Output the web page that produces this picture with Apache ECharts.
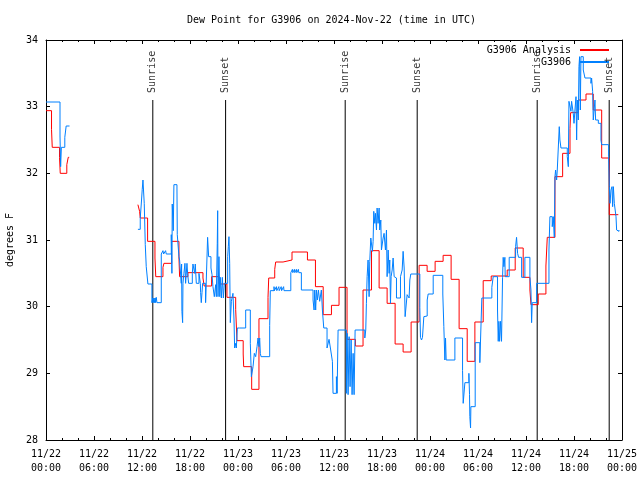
<!DOCTYPE html>
<html><head><meta charset="utf-8">
<script src="https://cdn.jsdelivr.net/npm/echarts@6/dist/echarts.min.js"></script>
<style>html,body{margin:0;padding:0;background:#fff}#c{width:640px;height:480px}</style>
</head><body><div id="c"></div>
<script>
// x values are hours since 2024-11-22 00:00 UTC
const tickDates = ['11/22','11/22','11/22','11/22','11/23','11/23','11/23','11/23','11/24','11/24','11/24','11/24','11/25'];
const tickTimes = ['00:00','06:00','12:00','18:00','00:00','06:00','12:00','18:00','00:00','06:00','12:00','18:00','00:00'];

const sunTimes = [13.35, 22.45, 37.4, 46.4, 61.4, 70.4];
const sunNames = ['Sunrise','Sunset','Sunrise','Sunset','Sunrise','Sunset'];

const analysis = [
 [0,32.94],[0.69,32.66],[0.78,32.39],[1.69,32.24],[1.78,32.0],[2.6,32.13],[2.78,32.24],[2.85,32.24],[2.9,null],
 [11.49,31.53],[11.7,31.43],[11.78,31.33],[12.7,30.98],[13.62,30.73],[13.72,30.45],[14.62,30.59],[14.74,30.65],
 [15.7,30.98],[16.62,30.73],[16.7,30.45],[17.74,30.51],[19.62,30.43],[19.77,30.31],[20.7,30.45],[21.65,30.34],
 [22.62,30.14],[23.71,29.96],[23.87,29.49],[24.65,29.29],[24.71,29.1],[25.71,28.76],[26.62,29.82],[27.75,30.14],
 [27.84,30.43],[28.59,30.56],[28.71,30.67],[29.63,30.7],[30.75,30.82],[32.68,30.7],[33.68,30.3],[34.65,29.88],
 [35.68,30.02],[36.63,30.29],[37.63,29.51],[38.68,29.41],[39.63,30.25],[40.69,30.84],[41.64,30.28],[42.64,30.05],
 [43.64,29.44],[44.64,29.32],[45.64,29.77],[46.64,30.62],[47.64,30.53],[48.64,30.68],[49.64,30.77],[50.64,30.41],
 [51.64,29.67],[52.65,29.18],[53.61,29.77],[54.65,30.39],[55.65,30.46],[57.65,30.55],[58.65,30.88],[59.65,30.44],
 [60.49,30.25],[60.62,30.03],[61.53,30.19],[62.49,30.61],[62.66,31.04],[63.62,31.95],[64.58,32.3],[65.5,32.67],
 [65.58,32.91],[66.53,33.1],[67.5,33.19],[68.41,32.95],[69.46,32.23],[70.41,31.38],[71.54,31.38]
];

const observed = [
 [0,33.07],[1.75,32.56],[1.83,32.1],[1.92,32.39],[2.35,32.54],[2.52,32.71],[2.94,32.71],[3.0,null],
 [11.49,31.16],[11.78,31.33],[11.91,31.54],[12.03,31.76],[12.12,31.9],[12.24,31.93],[12.28,31.55],[12.41,30.93],
 [12.53,30.6],[12.74,30.34],[13.24,30.06],[13.35,30.13],[13.4,30.06],[13.5,30.13],[13.55,30.06],[13.65,30.13],
 [13.7,30.06],[13.78,30.14],[13.87,30.06],[14.41,30.79],[14.62,30.84],[14.7,30.79],
 [14.95,30.84],[15.03,30.79],[15.66,31.08],[15.74,30.5],[15.78,31.54],[15.91,31.14],[15.99,31.83],[16.37,31.78],
 [16.41,31.08],[16.62,30.75],[16.7,30.7],[16.91,30.35],[16.95,30.64],[16.99,29.93],[17.08,29.76],[17.12,30.35],
 [17.24,30.5],[17.37,30.65],[17.45,30.35],[17.62,30.65],[17.7,30.5],[17.83,30.35],[18.29,30.5],[18.37,30.64],
 [18.58,30.5],[18.66,30.64],[18.79,30.35],[19.12,30.5],[19.29,30.35],[19.33,30.21],[19.41,30.06],[19.5,30.21],
 [19.58,30.35],[19.95,30.06],[20.2,31.04],[20.33,30.75],[20.62,30.58],[20.75,30.48],[20.87,30.3],[21.04,30.15],
 [21.21,30.33],[21.29,30.15],[21.41,30.95],[21.46,31.44],[21.5,30.15],[21.62,30.75],[21.72,30.15],
 [21.79,30.44],[21.92,30.13],[22.04,30.44],[22.17,30.13],[22.29,30.35],[22.71,30.75],[22.79,30.9],[22.87,31.05],
 [22.96,30.65],[23.04,29.76],[23.17,30.08],[23.37,30.2],[23.5,29.8],[23.58,29.38],[23.71,29.45],[23.79,29.38],
 [23.92,29.68],[24.2,29.7],[24.3,29.68],[24.96,29.95],[25.54,29.45],[25.67,28.95],[25.88,29.1],[26.04,29.3],
 [26.21,29.25],[26.38,29.4],[26.5,29.53],[26.63,29.4],[26.71,29.53],[26.79,29.3],[26.88,29.25],[27.96,29.72],
 [28.04,30.24],[28.5,30.3],[28.55,30.24],[28.8,30.3],[28.85,30.24],[29.1,30.3],[29.15,30.24],[29.4,30.3],
 [29.45,30.24],[29.7,30.3],[29.75,30.24],[30.6,30.51],[30.8,30.56],[30.85,30.51],[31.05,30.56],[31.1,30.51],
 [31.3,30.56],[31.35,30.51],[31.55,30.56],[31.6,30.51],
 [31.92,30.25],[33.38,30.1],[33.51,29.95],[33.59,30.25],[33.71,29.95],[33.8,30.25],
 [33.92,30.1],[34.05,30.25],[34.21,30.08],[34.42,30.25],[34.55,29.95],[34.72,29.68],
 [35.13,29.38],[35.38,29.51],[35.55,29.38],[35.8,29.18],[35.88,28.7],[36.3,28.95],[36.39,28.7],[36.51,29.65],
 [37.55,28.7],[37.64,29.6],[37.76,28.68],[37.89,29.55],[38.01,28.8],[38.14,29.5],[38.26,28.68],[38.39,29.3],
 [38.51,28.68],[38.64,29.65],[39.85,29.53],[39.97,29.65],[40.05,30.05],[40.14,30.45],[40.26,30.7],[40.39,30.15],
 [40.47,30.68],[40.6,31.03],[40.68,31.05],[40.8,30.83],[40.89,30.98],[40.97,31.43],[41.1,31.25],[41.18,31.4],
 [41.31,31.15],[41.39,31.48],[41.51,31.25],[41.64,31.48],[41.72,31.15],[41.85,31.3],[41.93,30.85],[42.06,30.83],
 [42.14,31.03],[42.26,31.1],[42.43,30.85],[42.56,31.15],[42.64,30.45],[42.77,30.85],[42.89,30.5],[42.97,30.7],
 [43.06,30.05],[43.14,30.45],[43.27,30.55],[43.39,30.73],[43.52,30.45],[43.64,30.43],[43.81,30.13],[44.31,30.45],
 [44.52,30.55],[44.64,30.83],[44.77,30.58],[44.89,29.85],[45.14,30.18],[45.39,30.13],[45.48,30.4],[45.6,30.49],
 [46.73,29.99],[46.81,29.54],[46.94,29.5],[47.06,29.54],[47.23,29.85],[47.35,29.83],[47.48,29.86],[47.65,30.1],
 [47.77,30.19],[48.4,30.47],[49.6,30.19],[49.73,29.7],[49.86,29.2],[49.94,29.53],[50.02,29.2],[51.11,29.53],
 [52.07,29.04],[52.15,28.55],[52.36,28.86],[52.86,29.0],[52.94,28.68],[52.98,28.35],[53.07,28.18],[53.11,28.5],
 [53.65,29.46],[54.23,29.16],[54.48,30.13],[55.73,30.29],[55.9,30.45],[56.44,29.95],[56.53,29.48],[56.61,29.78],
 [56.7,29.48],[56.82,29.78],[56.94,29.48],[57.07,30.44],[57.15,30.74],[57.24,30.6],[57.36,30.74],[57.4,30.45],
 [57.9,30.74],[58.7,30.9],[58.82,31.04],[58.95,30.8],[59.07,30.74],[59.45,30.44],[59.86,30.74],[60.49,30.44],
 [60.62,30.25],[60.7,29.76],[60.78,30.06],[61.33,30.35],[62.87,30.85],[62.99,31.35],[63.28,31.2],[63.41,31.35],
 [63.54,31.04],[63.62,31.95],[63.7,32.05],[63.83,31.9],[63.91,32.05],[64.16,32.7],[64.24,32.5],[64.37,32.38],
 [65.16,32.25],[65.29,32.1],[65.37,33.08],[65.62,32.93],[65.7,33.08],[65.91,32.9],[66.0,32.75],[66.12,32.95],
 [66.25,33.15],[66.33,32.5],[66.41,33.1],[66.54,32.8],[66.62,33.6],[66.7,33.75],[66.79,32.95],[66.87,33.75],
 [67.16,33.55],[67.37,33.43],[68.12,33.35],[68.2,33.43],[68.33,33.23],[68.41,32.8],[68.62,33.1],[68.7,32.8],
 [69.04,32.75],[69.37,32.5],[69.46,32.43],[70.33,32.25],[70.42,31.8],[70.5,31.55],[70.62,31.75],[70.75,31.8],
 [70.83,31.5],[70.92,31.8],[71.04,31.55],[71.25,31.35],[71.33,31.15],[71.46,31.13],[71.62,31.15]
];

const FONT = 'DejaVu Sans Mono';
const yMin = 28, yMax = 34;
const markerTop = yMin + 0.85 * (yMax - yMin);

const sunLine = [];
sunTimes.forEach(t => { sunLine.push([t, yMin], [t, markerTop], [t, null]); });
const sunLabelPts = sunTimes.map((t, i) => [t, markerTop, sunNames[i]]);

const chart = echarts.init(document.getElementById('c'), null, {renderer: 'canvas'});
const axisCommon = {
  axisLine: {show: true, onZero: false, lineStyle: {color: '#000', width: 1}},
  axisTick: {show: true, inside: true, length: 4, lineStyle: {color: '#000', width: 1}},
  splitLine: {show: false}
};
chart.setOption({
  animation: false,
  backgroundColor: '#fff',
  title: {
    text: 'Dew Point for G3906 on 2024-Nov-22 (time in UTC)',
    left: 187, top: 15, padding: 0,
    textStyle: {fontFamily: FONT, fontSize: 10, fontWeight: 'normal', color: '#000'}
  },
  legend: {
    data: ['G3906 Analysis', 'G3906'],
    orient: 'vertical', right: 30, top: 45, align: 'right',
    itemWidth: 29, itemHeight: 11, itemGap: 2, padding: 0,
    itemStyle: {opacity: 0},
    textStyle: {fontFamily: FONT, fontSize: 10, color: '#000', padding: [0, 4, 0, 0]}
  },
  grid: {left: 46, right: 18, top: 40, bottom: 40, show: false, outerBoundsMode: 'none', containLabel: false},
  xAxis: [
    Object.assign({}, axisCommon, {
      type: 'value', min: 0, max: 72, interval: 6, position: 'bottom',
      minorTick: {show: true, splitNumber: 3, length: 2, lineStyle: {color: '#000'}},
      axisLabel: {
        formatter: v => tickDates[Math.round(v / 6)] + '\n' + tickTimes[Math.round(v / 6)],
        fontFamily: FONT, fontSize: 10, color: '#000', lineHeight: 14, margin: 7
      }
    }),
    Object.assign({}, axisCommon, {
      type: 'value', min: 0, max: 72, interval: 6, position: 'top',
      minorTick: {show: true, splitNumber: 3, length: 2, lineStyle: {color: '#000'}},
      axisLabel: {show: false}
    })
  ],
  yAxis: [
    Object.assign({}, axisCommon, {
      type: 'value', min: yMin, max: yMax, interval: 1, position: 'left',
      axisLabel: {fontFamily: FONT, fontSize: 10, color: '#000', margin: 8},
      name: 'degrees F', nameLocation: 'middle', nameGap: 31, nameRotate: 90,
      nameTextStyle: {fontFamily: FONT, fontSize: 10, color: '#000'}
    }),
    Object.assign({}, axisCommon, {
      type: 'value', min: yMin, max: yMax, interval: 1, position: 'right',
      axisLabel: {show: false}
    })
  ],
  series: [
    {
      name: 'sun', type: 'line', data: sunLine, symbol: 'none', silent: true,
      lineStyle: {color: '#000', width: 1}, connectNulls: false, z: 1
    },
    {
      name: 'G3906 Analysis', type: 'line', step: 'end', data: analysis, symbol: 'none',
      lineStyle: {color: '#ff0000', width: 1}, itemStyle: {color: '#ff0000'}, connectNulls: false, z: 2
    },
    {
      name: 'G3906', type: 'line', step: 'end', data: observed, symbol: 'none',
      lineStyle: {color: '#0080ff', width: 1}, itemStyle: {color: '#0080ff'}, connectNulls: false, z: 3
    },
    {
      name: 'sunLabels', type: 'scatter', data: sunLabelPts, symbolSize: 0.1, silent: true,
      itemStyle: {color: 'rgba(0,0,0,0)'},
      label: {
        show: true, formatter: p => p.value[2], position: 'top', distance: 7,
        rotate: 90, align: 'left', verticalAlign: 'middle',
        fontFamily: FONT, fontSize: 10, color: '#000'
      }, z: 4
    }
  ]
});
</script>
</body></html>
